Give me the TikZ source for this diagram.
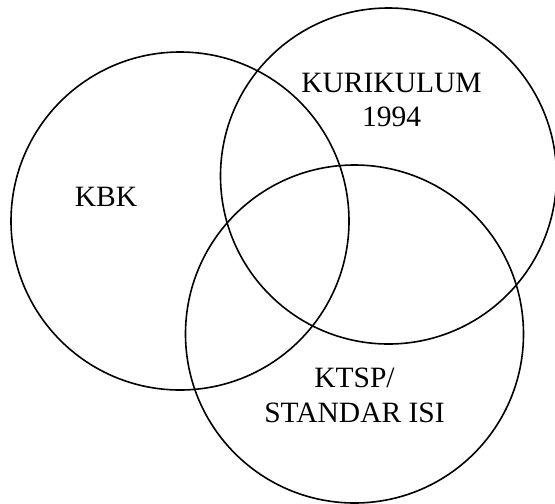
\documentclass[tikz,border=0pt]{standalone}
\usepackage{fontspec}
\setmainfont{Liberation Serif}
\begin{document}
\begin{tikzpicture}[x=1pt,y=-1pt,
  ring/.style={circle,draw=black,line width=1.6pt,inner sep=0pt,minimum size=#1},
  label/.style={font=\fontsize{29.5}{34.5}\selectfont,align=center,inner sep=0pt}]
  \useasboundingbox (0,0) rectangle (555,504);
  % the three overlapping sets
  \node[ring=338pt] (kbk) at (180,221) {};
  \node[ring=336pt] (kur) at (388.5,176) {};
  \node[ring=338pt] (ktsp) at (354.5,334) {};
  % set names
  \node[label] (tkbk) at (106,197) {KBK};
  \node[label] (tkur) at (391.5,100) {KURIKULUM\\1994};
  \node[label] (tktsp) at (354.5,395.5) {KTSP/\\STANDAR ISI};
\end{tikzpicture}
\end{document}
